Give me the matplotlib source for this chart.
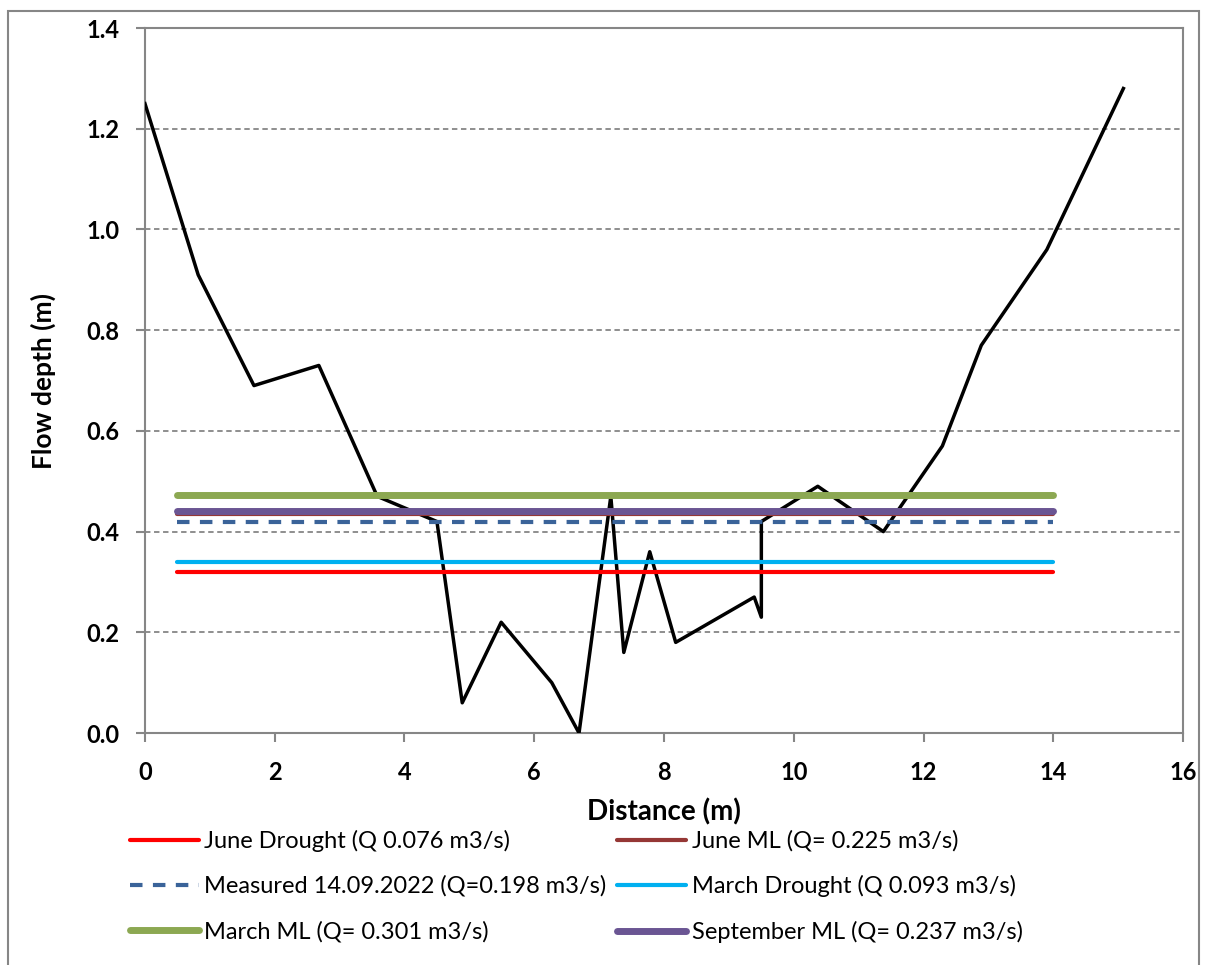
import matplotlib.pyplot as plt
from matplotlib.patches import Rectangle

# cross-section profile
distance = [0, 0.82, 1.68, 2.68, 3.58, 4.5, 4.89, 5.49, 6.27, 6.69, 7.18, 7.38,
            7.78, 8.18, 9.39, 9.5, 9.5, 10.37, 11.38, 12.29, 12.89, 13.9, 15.08]
depth = [1.25, 0.91, 0.69, 0.73, 0.47, 0.42, 0.06, 0.22, 0.10, 0.0, 0.47, 0.16,
         0.36, 0.18, 0.27, 0.23, 0.42, 0.49, 0.40, 0.57, 0.77, 0.96, 1.28]

# water levels (x from 0.5 to 14)
level_x = [0.5, 14]
names = ["June Drought (Q 0.076 m3/s)", "June ML (Q= 0.225 m3/s)",
         "Measured 14.09.2022 (Q=0.198 m3/s)", "March Drought (Q 0.093 m3/s)",
         "March ML (Q= 0.301 m3/s)", "September ML (Q= 0.237 m3/s)"]
levels = [0.32, 0.435, 0.42, 0.34, 0.472, 0.441]
colors = ["#FF0000", "#953735", "#3A6399", "#00B0F0", "#8CA852", "#6A5593"]
widths = [3, 3, 3, 3, 5, 5]
styles = ["-", "-", (0, (3, 2.5)), "-", "-", "-"]

plt.rcParams['font.family'] = ['Lato', 'DejaVu Sans']

fig = plt.figure(figsize=(12.06, 9.65), dpi=100)
ax = fig.add_axes([0.1202, 0.2404, 0.8608, 0.7305])

ax.plot(distance, depth, color="black", lw=2.5, zorder=3)
lines = {}
for n, lv, c, w, s in zip(names, levels, colors, widths, styles):
    ln, = ax.plot(level_x, [lv, lv], color=c, lw=w, ls=s, label=n,
                  solid_capstyle="round", zorder=4)
    lines[n] = ln

ax.set_xlim(0, 16)
ax.set_ylim(0, 1.4)
ax.set_xticks(range(0, 17, 2))
ax.set_yticks([i * 0.2 for i in range(8)])
ax.set_yticklabels([f"{i * 0.2:.1f}" for i in range(8)])
ax.yaxis.grid(True, color="#868686", ls=(0, (3, 2)), lw=1.3)
ax.set_axisbelow(True)
for sp in ax.spines.values():
    sp.set_color("#868686")
    sp.set_linewidth(1.5)
ax.tick_params(colors="#868686", width=1.5, length=6.5, labelcolor="black",
               labelsize=17)
for lab in ax.get_xticklabels() + ax.get_yticklabels():
    lab.set_fontweight("bold")
ax.tick_params(axis="x", pad=14)
ax.tick_params(axis="y", pad=12)

ax.set_xlabel("Distance (m)", fontsize=20, fontweight="bold", labelpad=10)
ax.set_ylabel("Flow depth (m)", fontsize=19, fontweight="bold", labelpad=22)

order = [names[0], names[2], names[4], names[1], names[3], names[5]]
fig.legend([lines[n] for n in order], order, ncol=2, loc="upper left",
           bbox_to_anchor=(0.1, 0.15), frameon=False, fontsize=17,
           handlelength=2.9, handletextpad=0.25, columnspacing=0.45,
           labelspacing=1.0, borderaxespad=0)

fig.patches.append(Rectangle((0.007, -0.01), 0.987, 0.999, transform=fig.transFigure,
                             fill=False, edgecolor="#868686", lw=1.5))

fig.savefig("out.png", dpi=100)
